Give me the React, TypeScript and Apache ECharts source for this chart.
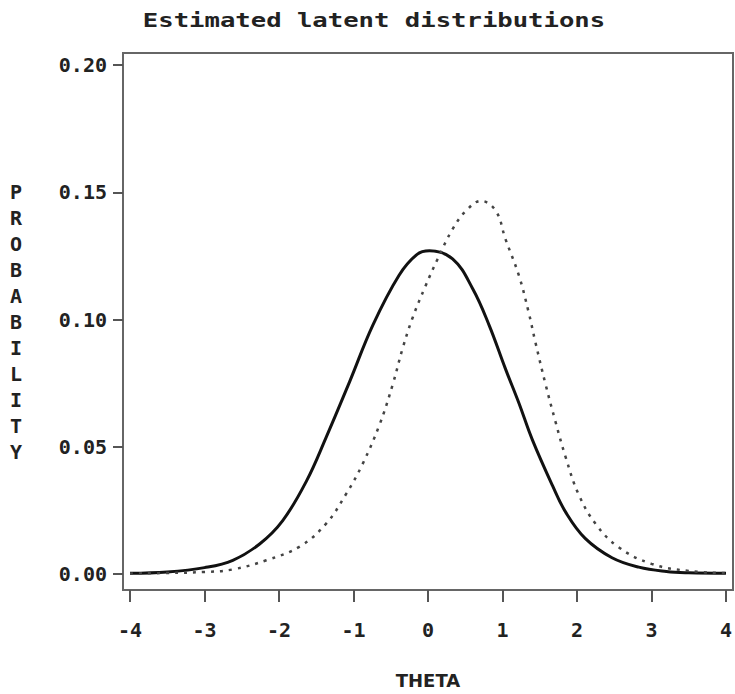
import React, { useEffect, useRef } from "react";
import * as echarts from "echarts";

const xTicks = [-4, -3, -2, -1, 0, 1, 2, 3, 4];
const yTicks = [0, 0.05, 0.1, 0.15, 0.2];

const solidTheta = [-4, -3.5, -3, -2.62, -2.26, -1.95, -1.63, -1.37, -1.05, -0.74, -0.39, -0.15, 0.02, 0.33, 0.6, 0.82, 1.04, 1.22, 1.4, 1.67, 1.85, 2.11, 2.47, 2.83, 3.2, 3.5, 4];
const solidProb = [0.0003, 0.0008, 0.0025, 0.0054, 0.0118, 0.021, 0.0366, 0.0535, 0.0757, 0.0978, 0.1173, 0.1255, 0.127, 0.1238, 0.1121, 0.0978, 0.0806, 0.0672, 0.0528, 0.0348, 0.0242, 0.0140, 0.0064, 0.0027, 0.001, 0.0005, 0.0003];

const dottedTheta = [-4, -3.5, -3, -2.62, -2.17, -1.72, -1.37, -1.1, -0.88, -0.65, -0.475, -0.34, -0.21, -0.03, 0.13, 0.33, 0.51, 0.71, 0.91, 1.04, 1.22, 1.35, 1.44, 1.58, 1.71, 1.85, 2.02, 2.25, 2.56, 3.0, 3.5, 4];
const dottedProb = [0.0002, 0.0004, 0.0008, 0.0018, 0.0054, 0.0108, 0.0197, 0.0314, 0.0431, 0.0587, 0.0743, 0.0887, 0.1004, 0.1134, 0.1238, 0.1355, 0.1427, 0.1466, 0.1427, 0.1316, 0.1173, 0.103, 0.0913, 0.0743, 0.06, 0.0457, 0.0314, 0.0197, 0.0105, 0.004, 0.0012, 0.0004];

const MONO = "'DejaVu Sans Mono', monospace";

export default function App() {
  const ref = useRef<HTMLDivElement>(null);
  useEffect(() => {
    if (!ref.current) return;
    const chart = echarts.init(ref.current, null, { renderer: "svg" });
    chart.setOption({
      animation: false,
      backgroundColor: "#fff",
      grid: { left: 130, right: 7, top: 65, bottom: 117, containLabel: false },
      xAxis: {
        type: "value",
        min: xTicks[0],
        max: xTicks[xTicks.length - 1],
        interval: 1,
        offset: 16,
        axisLine: { show: false, onZero: false },
        axisTick: { show: true, length: 12, lineStyle: { color: "#555", width: 2 } },
        splitLine: { show: false },
        axisLabel: {
          margin: 30,
          fontFamily: MONO,
          fontWeight: "bold",
          fontSize: 20,
          color: "#222",
          formatter: (v: number) => String(v),
        },
        name: "THETA",
        nameLocation: "middle",
        nameGap: 81,
        nameTextStyle: { fontFamily: "'DejaVu Sans', sans-serif", fontWeight: "bold", fontSize: 18, color: "#222" },
      },
      yAxis: {
        type: "value",
        min: yTicks[0],
        max: yTicks[yTicks.length - 1],
        interval: 0.05,
        offset: 7,
        axisLine: { show: false, onZero: false },
        axisTick: { show: true, length: 10, lineStyle: { color: "#555", width: 2 } },
        splitLine: { show: false },
        axisLabel: {
          margin: 16,
          fontFamily: MONO,
          fontWeight: "bold",
          fontSize: 20,
          color: "#222",
          formatter: (v: number) => v.toFixed(2),
        },
      },
      graphic: [
        {
          type: "rect",
          shape: { x: 123, y: 53, width: 610, height: 537 },
          style: { fill: "none", stroke: "#666", lineWidth: 2 },
          silent: true,
        },
        {
          type: "text",
          x: 374,
          y: 20,
          scaleX: 1.28,
          style: {
            text: "Estimated latent distributions",
            fontFamily: MONO,
            fontWeight: "bold",
            fontSize: 20,
            fill: "#222",
            align: "center",
            verticalAlign: "middle",
          },
        },
        {
          type: "text",
          x: 16,
          y: 322,
          style: {
            text: "P\nR\nO\nB\nA\nB\nI\nL\nI\nT\nY",
            fontFamily: MONO,
            fontWeight: "bold",
            fontSize: 20,
            lineHeight: 26,
            fill: "#222",
            align: "center",
            verticalAlign: "middle",
          },
        },
      ],
      series: [
        {
          type: "line",
          data: solidTheta.map((t, i) => [t, solidProb[i]]),
          smooth: 0.4,
          showSymbol: false,
          lineStyle: { color: "#111", width: 3 },
        },
        {
          type: "line",
          data: dottedTheta.map((t, i) => [t, dottedProb[i]]),
          smooth: 0.4,
          showSymbol: false,
          lineStyle: { color: "#444", width: 2.5, type: [3, 6] },
        },
      ],
    });
    return () => chart.dispose();
  }, []);
  return <div ref={ref} style={{ width: 735, height: 694, position: "absolute", left: 0, top: 0 }} />;
}
